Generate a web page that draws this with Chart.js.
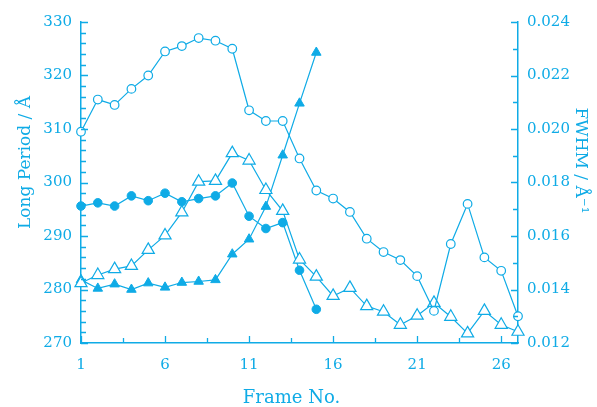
<!DOCTYPE html>
<html>
<head>
<meta charset="utf-8">
<script src="https://cdn.jsdelivr.net/npm/chart.js@4"></script>
<style>
  html, body { margin: 0; padding: 0; background: #fff; }
  #wrap { width: 597px; height: 407px; }
</style>
</head>
<body>
<div id="wrap"><canvas id="chart"></canvas></div>
<script>
// frame numbers
var frames = [1,2,3,4,5,6,7,8,9,10,11,12,13,14,15,16,17,18,19,20,21,22,23,24,25,26,27];

// long period (A), filled markers, left axis
var lpCircles = [295.6, 296.2, 295.6, 297.5, 296.6, 298.0, 296.4, 297.0, 297.5, 299.9, 293.7, 291.4, 292.5, 283.6, 276.3];
var lpTriangles = [281.8, 280.2, 281.0, 280.0, 281.2, 280.4, 281.3, 281.5, 281.8, 286.6, 289.4, 295.5, 305.1, 314.8, 324.3];

// FWHM (1/A), open markers, right axis
var fwhmCircles = [0.0199, 0.0211, 0.0209, 0.0215, 0.0220, 0.0229, 0.0231, 0.0234, 0.0233, 0.0230, 0.0207, 0.0203, 0.0203,
  0.0189, 0.0177, 0.0174, 0.0169, 0.0159, 0.0154, 0.0151, 0.0145, 0.0132, 0.0157, 0.0172, 0.0152, 0.0147, 0.0130];
var fwhmTriangles = [0.01424, 0.01454, 0.01476, 0.01488, 0.01548, 0.01602, 0.01688, 0.01803, 0.01806, 0.0191, 0.01882, 0.01772, 0.01694,
  0.01512, 0.01448, 0.01376, 0.01406, 0.01338, 0.01317, 0.01268, 0.01302, 0.0135, 0.01298, 0.01236, 0.0132, 0.01268, 0.01242];

// tick labels
var xTicks = [1, 6, 11, 16, 21, 26];
var lpTicks = [270, 280, 290, 300, 310, 320, 330];
var fwhmTicks = [0.012, 0.014, 0.016, 0.018, 0.020, 0.022, 0.024];

var blue = '#0fabe6';
var font = 'DejaVu Serif';

function pts(ys) {
  return ys.map(function (y, i) { return { x: frames[i], y: y }; });
}

// ticks point into the plot, with minor ticks in between; axis titles
var innerTicks = {
  id: 'innerTicks',
  afterDraw: function (chart) {
    var ctx = chart.ctx, a = chart.chartArea;
    var sx = chart.scales.x, sl = chart.scales.y, sr = chart.scales.y1;
    ctx.save();
    ctx.strokeStyle = blue;
    ctx.lineWidth = 1.3;
    ctx.beginPath();
    for (var v = 1; v < 27; v += 2.5) {
      var px = Math.round(sx.getPixelForValue(v)) + 0.5;
      var len = (v - 1) % 5 === 0 ? 7 : 5;
      ctx.moveTo(px, a.bottom); ctx.lineTo(px, a.bottom - len);
    }
    for (var k = 0; k <= 30; k++) {
      var py = Math.round(sl.getPixelForValue(270 + k * 2)) + 0.5;
      var l = k % 5 === 0 ? 7 : 5;
      ctx.moveTo(a.left, py); ctx.lineTo(a.left + l, py);
    }
    for (var j = 0; j <= 12; j++) {
      var qy = Math.round(sr.getPixelForValue(0.012 + j * 0.001)) + 0.5;
      var m = j % 2 === 0 ? 7 : 5;
      ctx.moveTo(a.right, qy); ctx.lineTo(a.right - m, qy);
    }
    ctx.stroke();

    ctx.fillStyle = blue;
    ctx.textAlign = 'center';
    ctx.textBaseline = 'middle';
    ctx.font = '18px "DejaVu Serif"';
    ctx.fillText('Frame No.', (a.left + a.right) / 2 - 8, 398);
    ctx.font = '17px "DejaVu Serif"';
    ctx.save();
    ctx.translate(26, (a.top + a.bottom) / 2 - 20);
    ctx.rotate(-Math.PI / 2);
    ctx.fillText('Long Period / Å', 0, 0);
    ctx.restore();
    ctx.save();
    ctx.translate(580, (a.top + a.bottom) / 2 - 22);
    ctx.rotate(Math.PI / 2);
    ctx.fillText('FWHM / Å⁻¹', 0, 0);
    ctx.restore();
    ctx.restore();
  }
};

new Chart(document.getElementById('chart'), {
  type: 'line',
  data: {
    datasets: [
      {
        data: pts(fwhmCircles), yAxisID: 'y1',
        borderColor: blue, borderWidth: 1.2,
        pointStyle: 'circle', pointRadius: 4.3, pointBackgroundColor: '#fff', pointBorderColor: blue, pointBorderWidth: 1.2
      },
      {
        data: pts(fwhmTriangles), yAxisID: 'y1',
        borderColor: blue, borderWidth: 1.2,
        pointStyle: 'triangle', pointRadius: 7, pointBackgroundColor: '#fff', pointBorderColor: blue, pointBorderWidth: 1.2
      },
      {
        data: pts(lpCircles), yAxisID: 'y',
        borderColor: blue, borderWidth: 1.2,
        pointStyle: 'circle', pointRadius: 4.3, pointBackgroundColor: blue, pointBorderColor: blue, pointBorderWidth: 1
      },
      {
        data: pts(lpTriangles), yAxisID: 'y',
        borderColor: blue, borderWidth: 1.2,
        pointStyle: 'triangle', pointRadius: 5.5, pointBackgroundColor: blue, pointBorderColor: blue, pointBorderWidth: 1
      }
    ]
  },
  options: {
    responsive: true,
    maintainAspectRatio: false,
    animation: false,
    clip: false,
    layout: { padding: { top: 22, left: 0, right: 0, bottom: 0 } },
    plugins: { legend: { display: false }, tooltip: { enabled: false } },
    scales: {
      x: {
        type: 'linear', min: 1, max: 27,
        grid: { display: false, drawTicks: false },
        border: { display: true, color: blue, width: 1.5 },
        afterBuildTicks: function (s) { s.ticks = xTicks.map(function (v) { return { value: v }; }); },
        afterFit: function (s) { s.height = 64; },
        ticks: { color: blue, padding: 13, font: { family: font, size: 15 } }
      },
      y: {
        type: 'linear', position: 'left', min: 270, max: 330,
        grid: { display: false, drawTicks: false },
        border: { display: true, color: blue, width: 1.5 },
        afterBuildTicks: function (s) { s.ticks = lpTicks.map(function (v) { return { value: v }; }); },
        afterFit: function (s) { s.width = 81; },
        ticks: { color: blue, padding: 9, font: { family: font, size: 15 } }
      },
      y1: {
        type: 'linear', position: 'right', min: 0.012, max: 0.024,
        grid: { display: false, drawTicks: false },
        border: { display: true, color: blue, width: 1.5 },
        afterBuildTicks: function (s) { s.ticks = fwhmTicks.map(function (v) { return { value: v }; }); },
        afterFit: function (s) { s.width = 79; },
        ticks: {
          color: blue, padding: 9, font: { family: font, size: 15 },
          callback: function (v) { return Number(v).toFixed(3); }
        }
      }
    }
  },
  plugins: [innerTicks]
});
</script>
</body>
</html>
